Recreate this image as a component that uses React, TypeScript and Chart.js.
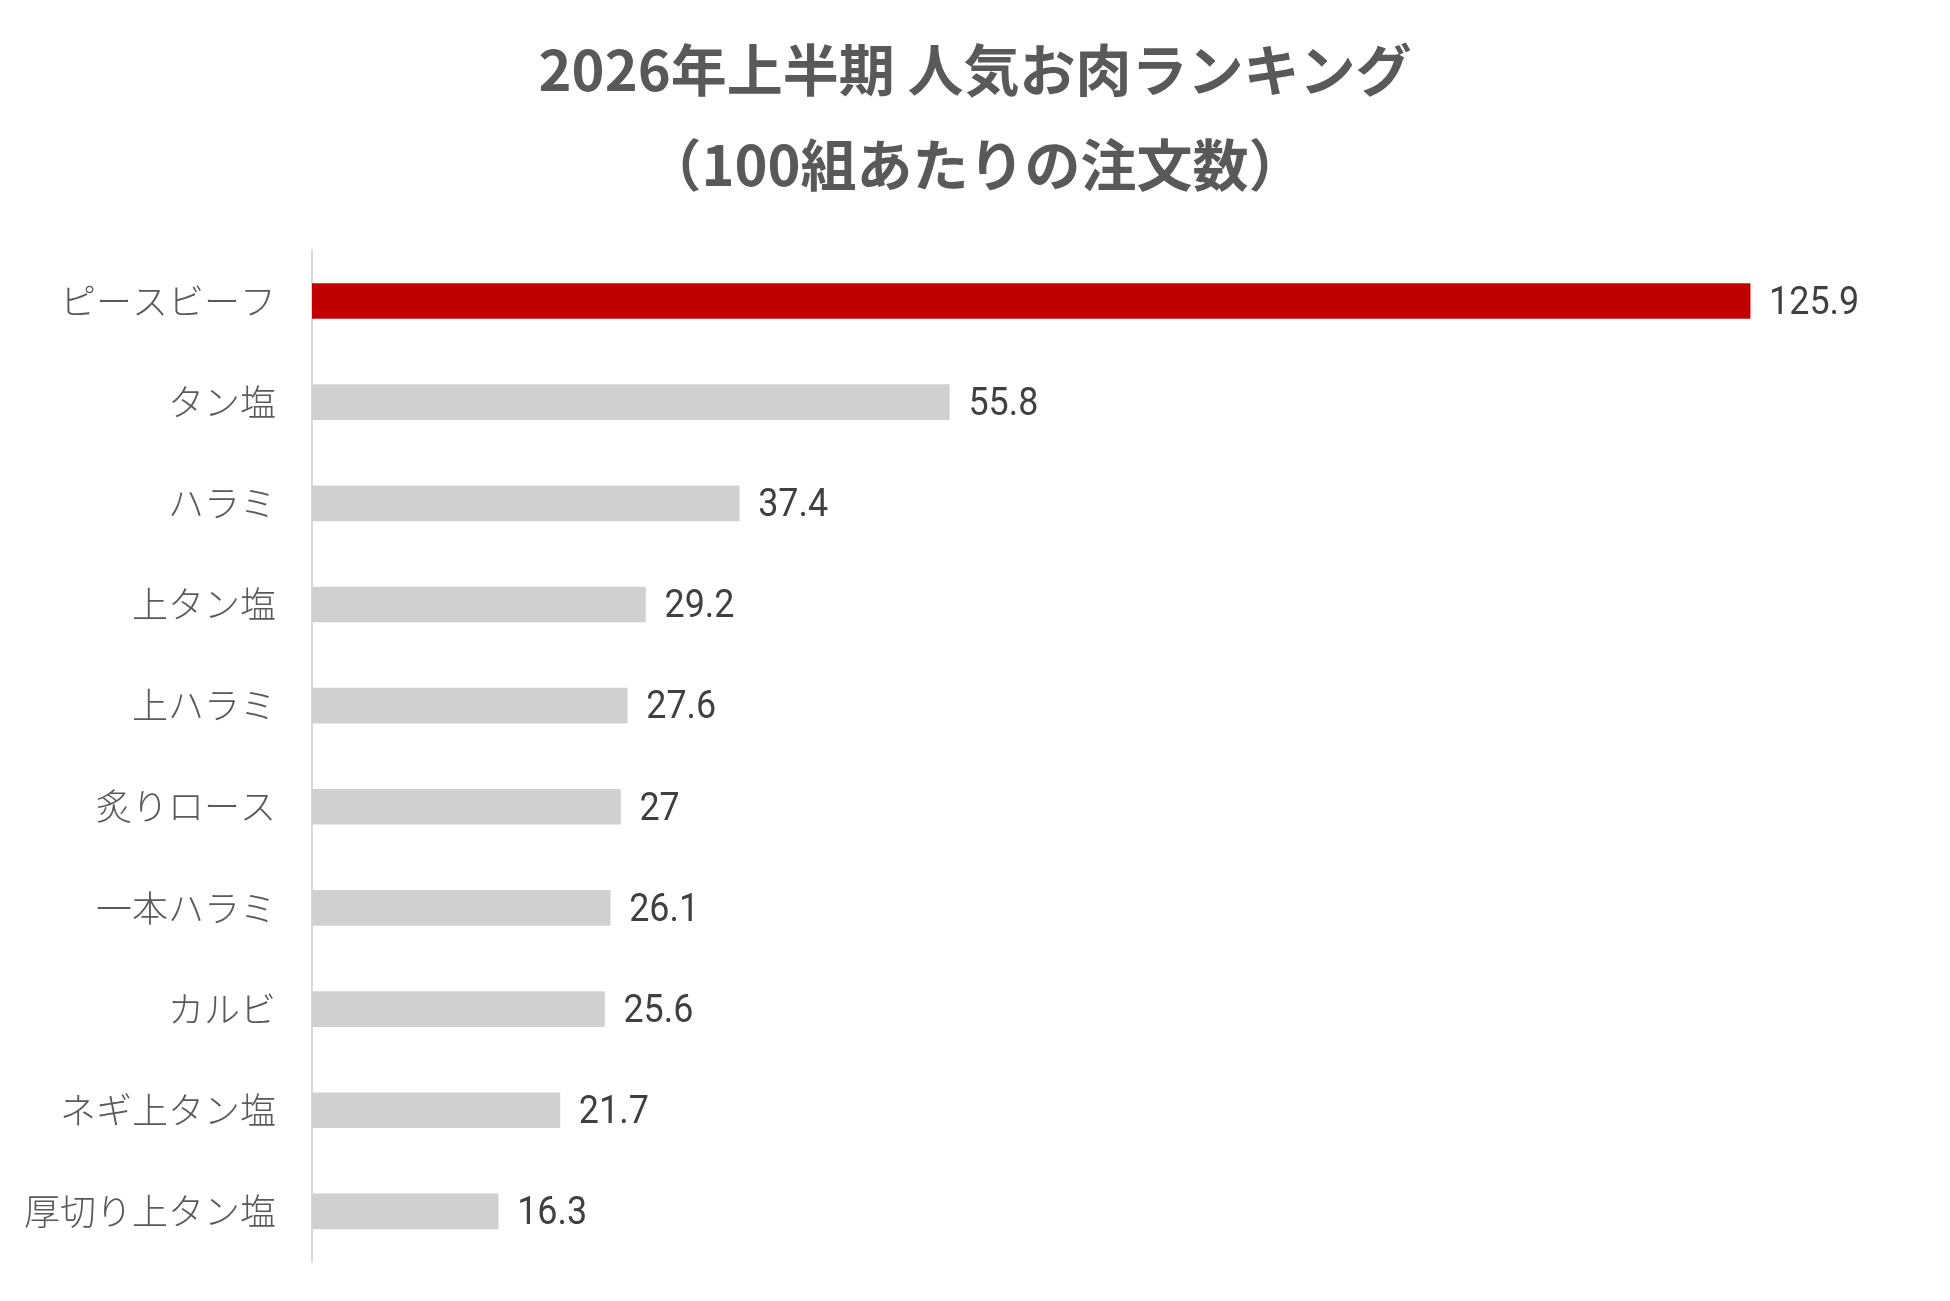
import React, { useEffect, useRef } from "react";
import { Chart, registerables } from "chart.js";

Chart.register(...registerables);

const titleLines = ["2026年上半期 人気お肉ランキング", "（100組あたりの注文数）"];
const categories = [
  "ピースビーフ",
  "タン塩",
  "ハラミ",
  "上タン塩",
  "上ハラミ",
  "炙りロース",
  "一本ハラミ",
  "カルビ",
  "ネギ上タン塩",
  "厚切り上タン塩",
];
const values = [125.9, 55.8, 37.4, 29.2, 27.6, 27, 26.1, 25.6, 21.7, 16.3];
const barColors = [
  "#c00000",
  "#d0d0d0",
  "#d0d0d0",
  "#d0d0d0",
  "#d0d0d0",
  "#d0d0d0",
  "#d0d0d0",
  "#d0d0d0",
  "#d0d0d0",
  "#d0d0d0",
];

const valueLabelPlugin = {
  id: "valueLabels",
  afterDatasetsDraw(chart: any) {
    const ctx = chart.ctx;
    const meta = chart.getDatasetMeta(0);
    const data = chart.data.datasets[0].data;
    ctx.font = '400 39px "Roboto", sans-serif';
    ctx.fillStyle = "#404040";
    ctx.textAlign = "left";
    ctx.textBaseline = "middle";
    meta.data.forEach((bar: any, i: number) => {
      ctx.save();
      ctx.translate(bar.x + 19, bar.y + 3);
      ctx.scale(0.92, 1);
      ctx.fillText(String(data[i]), 0, 0);
      ctx.restore();
    });
  },
};

export default function App() {
  const ref = useRef<HTMLCanvasElement>(null);
  useEffect(() => {
    if (!ref.current) return;
    const chart = new Chart(ref.current, {
      type: "bar",
      data: {
        labels: categories,
        datasets: [
          {
            data: values,
            backgroundColor: barColors,
            borderWidth: 0,
            barThickness: 35,
          },
        ],
      },
      options: {
        indexAxis: "y",
        responsive: false,
        maintainAspectRatio: false,
        animation: false,
        devicePixelRatio: 1,
        layout: { padding: { top: 0, right: 0, bottom: 39, left: 0 } },
        plugins: {
          legend: { display: false },
          tooltip: { enabled: false },
          title: {
            display: true,
            text: titleLines,
            color: "#595959",
            font: { family: '"Noto Sans CJK JP", sans-serif', size: 56, weight: "bold", lineHeight: 1.7 },
            padding: { top: 22, bottom: 38 },
          },
        },
        scales: {
          x: { display: false, min: 0, max: 143.4 },
          y: {
            grid: { display: false, drawTicks: false },
            border: { display: true, color: "#d9d9d9", width: 2 },
            ticks: {
              color: "#595959",
              padding: 36,
              font: { family: '"Noto Sans CJK JP", sans-serif', size: 36, weight: 300 },
            },
            afterFit(scale: any) {
              scale.width = 312;
              scale.paddingTop = 0;
              scale.paddingBottom = 0;
            },
          },
        },
      },
      plugins: [valueLabelPlugin],
    });
    return () => chart.destroy();
  }, []);
  return (
    <div style={{ position: "absolute", left: 0, top: 0, width: 1950, height: 1301, background: "#fff" }}>
      <canvas ref={ref} width={1950} height={1301} style={{ display: "block", width: 1950, height: 1301 }} />
    </div>
  );
}
